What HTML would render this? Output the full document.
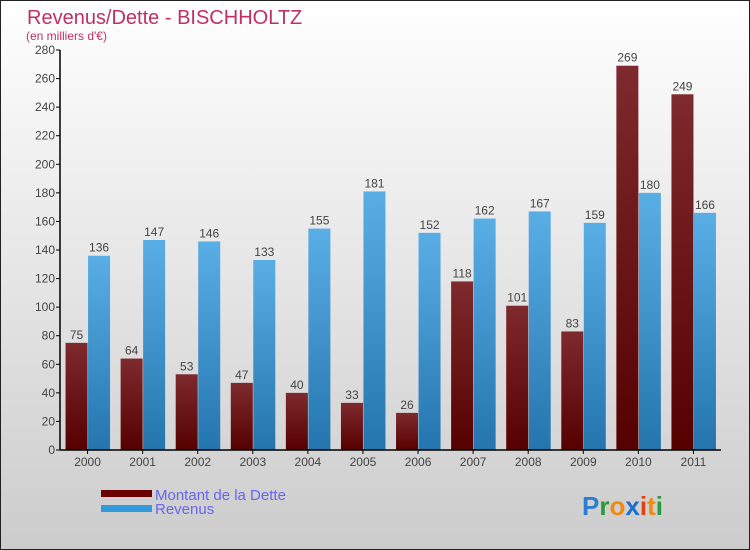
<!DOCTYPE html>
<html><head><meta charset="utf-8"><style>
body{margin:0}
#c{position:relative;width:750px;height:550px;box-sizing:border-box;border:1px solid #222;background:linear-gradient(#fff,#ccc);overflow:hidden;font-family:"Liberation Sans",sans-serif}
</style></head><body>
<div id="c">
<svg width="750" height="550" style="position:absolute;left:-1px;top:-1px">
<defs>
<linearGradient id="gd" x1="0" y1="0" x2="0" y2="1"><stop offset="0" stop-color="#7e2a2e"/><stop offset="1" stop-color="#560000"/></linearGradient>
<linearGradient id="gb" x1="0" y1="0" x2="0" y2="1"><stop offset="0" stop-color="#5aaee6"/><stop offset="1" stop-color="#2475ae"/></linearGradient>
</defs>
<text x="27" y="24" font-size="20" fill="#c03060">Revenus/Dette - BISCHHOLTZ</text>
<text x="26" y="40" font-size="12" fill="#c03060">(en milliers d'€)</text>
<g id="plot"></g>
<g>
<rect x="101" y="490" width="51" height="7" fill="#6a0000"/>
<text x="155" y="500" font-size="15" fill="#6666ee">Montant de la Dette</text>
<rect x="101" y="505" width="51" height="7" fill="#3399dd"/>
<text x="155" y="514" font-size="15" fill="#6666ee">Revenus</text>
</g>
<g font-size="26" font-weight="bold">
<text x="582" y="515"><tspan fill="#2a7fd0">P</tspan><tspan fill="#2a9a3a">r</tspan><tspan fill="#f08a10">o</tspan><tspan fill="#1a70d0">x</tspan><tspan fill="#e04010">i</tspan><tspan fill="#f08a10">t</tspan><tspan fill="#2a9a3a">i</tspan></text>
</g>
</svg>
</div>
<script>
const years=["2000","2001","2002","2003","2004","2005","2006","2007","2008","2009","2010","2011"];
const dette=[75,64,53,47,40,33,26,118,101,83,269,249];
const revenus=[136,147,146,133,155,181,152,162,167,159,180,166];
const yTicks=[0,20,40,60,80,100,120,140,160,180,200,220,240,260,280];
const NS="http://www.w3.org/2000/svg";
const g=document.getElementById('plot');
const X0=60,X1=721,Y0=450,Y1=50,YMAX=280;
const band=(X1-X0)/years.length;
const y=v=>Y0-(v/YMAX)*(Y0-Y1);
const xc=i=>X0+band*(i+0.5);
function mk(t,a){const e=document.createElementNS(NS,t);for(const k in a)e.setAttribute(k,a[k]);g.appendChild(e);return e;}
yTicks.forEach(v=>{
 const l=mk('line',{x1:X0-4,x2:X0,y1:y(v),y2:y(v),stroke:'#000'});
 
 
 const t=mk('text',{x:X0-5,y:y(v)+4,'font-size':12,'text-anchor':'end',fill:'#444'});
 t.textContent=v;
 
 
});
years.forEach((yr,i)=>{
 const c=xc(i);
 const b1=mk('rect',{x:c-22,y:y(dette[i]),width:22,height:Y0-y(dette[i]),fill:'url(#gd)'});
 
 
 const b2=mk('rect',{x:c+0.5,y:y(revenus[i]),width:22,height:Y0-y(revenus[i]),fill:'url(#gb)'});
 
 
 const t1=mk('text',{x:c-11,y:y(dette[i])-4,'font-size':12,'text-anchor':'middle',fill:'#444'});
 t1.textContent=dette[i];
 
 
 const t2=mk('text',{x:c+11.5,y:y(revenus[i])-4,'font-size':12,'text-anchor':'middle',fill:'#444'});
 t2.textContent=revenus[i];
 
 
 const tk=mk('line',{x1:c,x2:c,y1:Y0,y2:Y0+4,stroke:'#000'});
 
 
 const tl=mk('text',{x:c,y:Y0+16,'font-size':12,'text-anchor':'middle',fill:'#444'});
 tl.textContent=yr;
 
 
});
const ax=mk('line',{x1:X0,x2:X0,y1:Y1,y2:Y0,stroke:'#000','stroke-width':1.5});


const axx=mk('line',{x1:X0,x2:X1,y1:Y0,y2:Y0,stroke:'#000','stroke-width':1.5});


</script>
</body></html>
